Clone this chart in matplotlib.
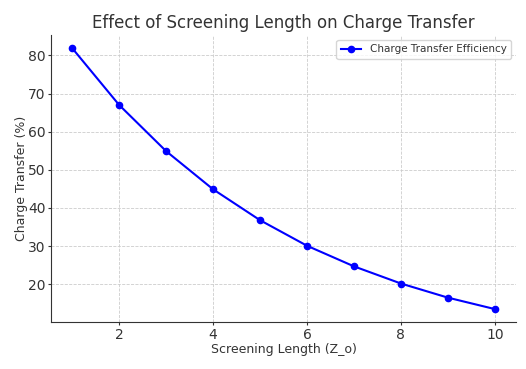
import matplotlib
matplotlib.use("Agg")
import matplotlib.pyplot as plt

screening_length = [1, 2, 3, 4, 5, 6, 7, 8, 9, 10]
charge_transfer = [81.9, 67.0, 54.9, 44.9, 36.8, 30.1, 24.7, 20.2, 16.5, 13.5]

plt.rcParams['text.color'] = '#333333'
plt.rcParams['axes.labelcolor'] = '#333333'
plt.rcParams['xtick.color'] = '#333333'
plt.rcParams['ytick.color'] = '#333333'

fig = plt.figure(figsize=(5.26, 3.69), dpi=100)
ax = fig.add_axes([0.097, 0.127, 0.884, 0.778])

ax.plot(screening_length, charge_transfer, color='blue', marker='o', markersize=4.5,
        linewidth=1.5, label='Charge Transfer Efficiency')

ax.set_title('Effect of Screening Length on Charge Transfer', fontsize=12, color='#333333', pad=5)
ax.set_xlabel('Screening Length (Z_o)', fontsize=9, labelpad=0.8)
ax.set_ylabel('Charge Transfer (%)', fontsize=9, labelpad=0)
ax.tick_params(labelsize=10, length=2, pad=2)
ax.grid(True, linestyle='--', color='#cccccc', linewidth=0.6)
for s in ['top', 'right']:
    ax.spines[s].set_visible(False)
for s in ['left', 'bottom']:
    ax.spines[s].set_color('#333333')
ax.legend(loc='upper right', fontsize=7.5)

fig.savefig('out.png', dpi=100)
